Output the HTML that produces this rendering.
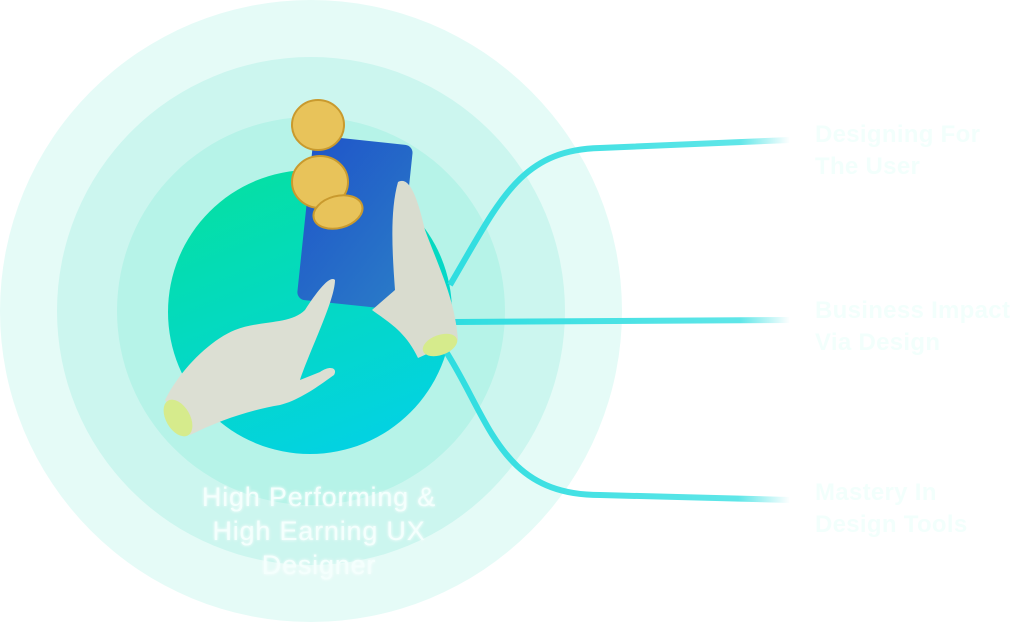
<!DOCTYPE html>
<html><head><meta charset="utf-8"><style>
html,body{margin:0;padding:0;background:#fff;}
body{width:1024px;height:622px;overflow:hidden;position:relative;font-family:"Liberation Sans",sans-serif;}
.lbl{position:absolute;color:#f2fffc;font-size:24px;font-weight:bold;line-height:32px;letter-spacing:0.3px;}
.c{position:absolute;left:0;top:480px;width:638px;text-align:center;color:#f4fffd;font-size:27px;line-height:34px;letter-spacing:0.8px;text-shadow:0 0 3px #fff;}
</style></head><body>
<svg width="1024" height="622" style="position:absolute;left:0;top:0">
<defs>
<linearGradient id="g" x1="0.2" y1="0" x2="0.6" y2="1">
<stop offset="0" stop-color="#05e0a2"/><stop offset="1" stop-color="#03d2e2"/></linearGradient>
<linearGradient id="ln" x1="0" x2="1"><stop offset="0" stop-color="#2fdde0"/><stop offset="0.85" stop-color="#5fe6e8"/><stop offset="1" stop-color="#5fe6e8" stop-opacity="0"/></linearGradient>
<linearGradient id="ph" x1="0" y1="0" x2="1" y2="1"><stop offset="0" stop-color="#1f55c9"/><stop offset="1" stop-color="#2a7bc8"/></linearGradient>
</defs>
<circle cx="311" cy="311" r="311" fill="#e5fbf7"/>
<circle cx="311" cy="311" r="254" fill="#ccf6ef"/>
<circle cx="311" cy="311" r="194" fill="#b6f3e8"/>
<circle cx="310" cy="312" r="142" fill="url(#g)"/>
<g fill="none" stroke="url(#ln)" stroke-width="6">
<path d="M450 285 C500 200 520 150 600 148 L790 140"/>
<path d="M455 322 L790 320"/>
<path d="M445 350 C490 420 500 495 600 495 L790 500"/>
</g>
<rect x="305" y="140" width="100" height="165" rx="8" fill="url(#ph)" transform="rotate(6 355 222)"/>
<g fill="#e8c35a" stroke="#c99a2e" stroke-width="2">
<ellipse cx="318" cy="125" rx="26" ry="25"/>
<ellipse cx="320" cy="182" rx="28" ry="26"/>
<ellipse cx="338" cy="212" rx="25" ry="16" transform="rotate(-15 338 212)"/>
</g>
<path d="M398 182 C410 175 418 200 425 230 C440 270 455 300 458 340 L418 358 C405 330 385 320 372 310 L395 290 C392 250 390 210 398 182 Z" fill="#d9dccf"/>
<ellipse cx="440" cy="345" rx="18" ry="10" fill="#d6eb8c" transform="rotate(-20 440 345)"/>
<path d="M335 280 C330 275 318 290 305 310 C290 325 260 320 235 330 C210 340 180 370 165 400 L190 435 C220 420 250 410 280 405 C300 400 320 385 334 375 C338 368 330 365 320 372 L300 380 C310 350 335 300 335 280 Z" fill="#dcdfd3"/>
<ellipse cx="178" cy="418" rx="12" ry="20" fill="#d6eb8c" transform="rotate(-30 178 418)"/>
</svg>
<div class="lbl" style="left:815px;top:119px">Designing For<br>The User</div>
<div class="lbl" style="left:815px;top:295px">Business Impact<br>Via Design</div>
<div class="lbl" style="left:815px;top:477px">Mastery In<br>Design Tools</div>
<div class="c">High Performing &amp;<br>High Earning UX<br>Designer</div>
</body></html>
